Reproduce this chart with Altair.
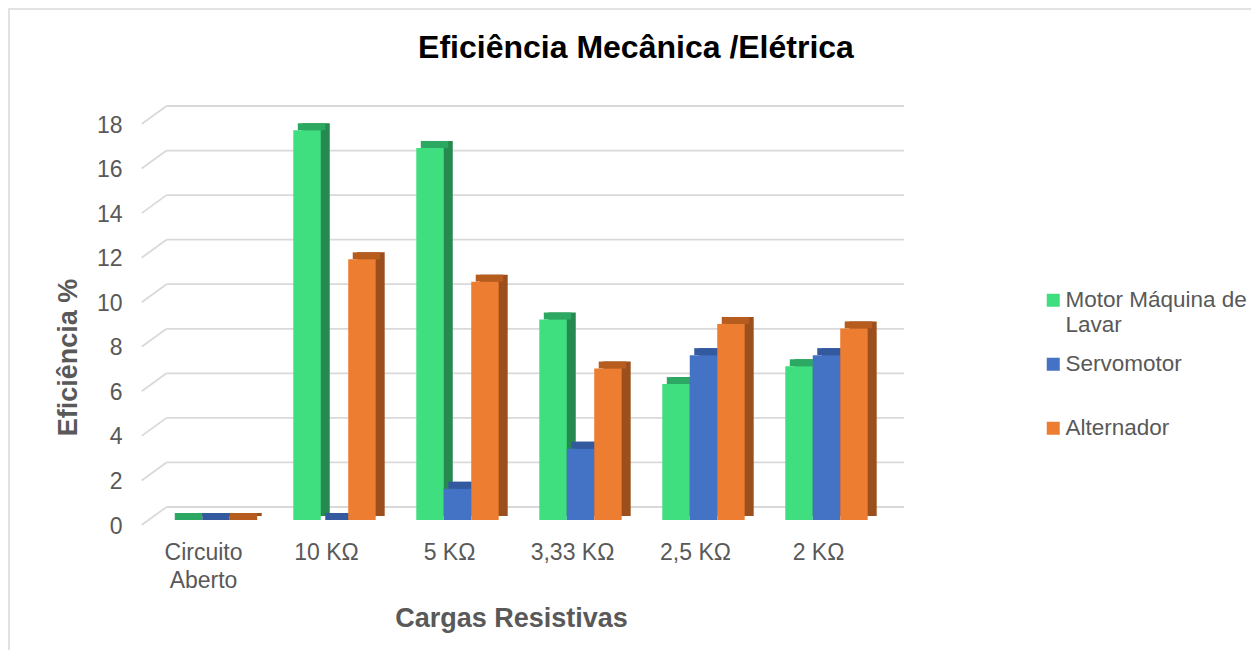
import altair as alt
import pandas as pd

FONT = "Liberation Sans, Arial, sans-serif"

categories = ["Circuito Aberto", "10 KΩ", "5 KΩ", "3,33 KΩ", "2,5 KΩ", "2 KΩ"]
series = ["Motor Máquina de Lavar", "Servomotor", "Alternador"]
motor = [0, 17.5, 16.7, 9.0, 6.1, 6.9]
servo = [0, 0, 1.4, 3.2, 7.4, 7.4]
alternador = [0, 11.7, 10.7, 6.8, 8.8, 8.6]
y_ticks = [0, 2, 4, 6, 8, 10, 12, 14, 16, 18]

front_colors = ["#3FDE7E", "#4472C4", "#ED7D31"]
side_colors = ["#26894F", "#2F5496", "#9A4F1D"]
top_colors = ["#2DA862", "#335A9F", "#B65C1E"]

rows = []
for s_i, (name, vals) in enumerate(zip(series, [motor, servo, alternador])):
    for cat, v in zip(categories, vals):
        rows.append({"cat": cat, "series": name, "value": v,
                     "side": side_colors[s_i], "top": top_colors[s_i]})
df = pd.DataFrame(rows)
ticks_df = pd.DataFrame({"tick": y_ticks})

GRID = "#D9D9D9"
TXT = "#595959"

X_AXIS = alt.Axis(labelExpr="datum.label == 'Circuito Aberto' ? ['Circuito', 'Aberto'] : datum.label",
                  labelAngle=0, labelFontSize=23, labelColor=TXT, labelFont=FONT,
                  labelPadding=21, labelOffset=-8, labelLineHeight=28,
                  domain=False, ticks=False, grid=False,
                  titleFontSize=27, titleFontWeight="bold", titleColor=TXT, titleFont=FONT,
                  titleX=361, titleY=98, titleBaseline="middle")
Y_AXIS = alt.Axis(values=y_ticks, labelFontSize=23, labelColor=TXT, labelFont=FONT,
                  labelPadding=28, labelOffset=6,
                  domain=False, ticks=False, grid=False,
                  titleFontSize=27, titleFontWeight="bold", titleColor=TXT, titleFont=FONT,
                  titleX=-82, titleY=238, titleBaseline="middle", titleAlign="center")
X_SCALE = alt.Scale(paddingInner=0.33, paddingOuter=0.165)
Y_SCALE = alt.Scale(domain=[0, 18], nice=False, zero=True)
X_TITLE = "Cargas Resistivas"
Y_TITLE = "Eficiência %"


def x_cat():
    return alt.X("cat:N", sort=categories, scale=X_SCALE, title=X_TITLE, axis=X_AXIS)


def y_of(field):
    return alt.Y(field, stack=None, scale=Y_SCALE, title=Y_TITLE, axis=Y_AXIS)


frame = alt.Chart(pd.DataFrame({"f": [0]})).mark_rect(
    filled=False, stroke=GRID, strokeWidth=1.5
).encode(x=alt.value(-141), x2=alt.value(1200), y=alt.value(-110), y2=alt.value(600))

grid = alt.Chart(ticks_df).mark_rule(color=GRID, strokeWidth=1.8, yOffset=-13).encode(
    y=y_of("tick:Q"),
    x=alt.value(16.5), x2=alt.value(754),
)

diag = alt.Chart(ticks_df).mark_rule(color=GRID, strokeWidth=1.8, yOffset=5, y2Offset=-13).encode(
    y=y_of("tick:Q"), y2=alt.Y2("tick:Q"),
    x=alt.value(-8.3), x2=alt.value(16.5),
)

side = alt.Chart(df).mark_bar(yOffset=-7, y2Offset=-4).encode(
    x=x_cat(),
    xOffset=alt.XOffset("series:N", sort=series,
                        scale=alt.Scale(range=[9, 91.4], paddingInner=0, paddingOuter=0)),
    y=y_of("value:Q"),
    y2=alt.datum(0),
    fill=alt.Fill("side:N", scale=None, legend=None),
)

top = alt.Chart(df).mark_bar(yOffset=-7, y2Offset=0).encode(
    x=x_cat(),
    xOffset=alt.XOffset("series:N", sort=series,
                        scale=alt.Scale(range=[4.5, 86.9], paddingInner=0, paddingOuter=0)),
    y=y_of("value:Q"),
    y2=alt.Y2("value:Q"),
    fill=alt.Fill("top:N", scale=None, legend=None),
)

front = alt.Chart(df).mark_bar().encode(
    x=x_cat(),
    xOffset=alt.XOffset("series:N", sort=series,
                        scale=alt.Scale(range=[0, 82.4], paddingInner=0, paddingOuter=0)),
    y=y_of("value:Q"),
    color=alt.Color("series:N", sort=series,
                    scale=alt.Scale(domain=series, range=front_colors),
                    legend=alt.Legend(orient="none", legendX=892, legendY=170, title=None,
                                      symbolType="square", symbolSize=169, symbolStrokeWidth=0,
                                      labelFontSize=22.5, labelColor=TXT, labelFont=FONT,
                                      labelOffset=1, labelLimit=400, padding=0,
                                      rowPadding=16, gridAlign="all",
                                      labelExpr="datum.label == 'Motor Máquina de Lavar' ? ['Motor Máquina de', 'Lavar'] : datum.label")),
)

chart = alt.layer(frame, grid, diag, side, top, front).resolve_scale(
    xOffset="independent"
).properties(
    width=738, height=401,
    autosize=alt.AutoSizeParams(type="none"),
    padding={"left": 142, "top": 111, "right": 363, "bottom": 130},
    title=alt.Title("Eficiência Mecânica /Elétrica", fontSize=32, font=FONT, fontWeight="bold",
                    color="#000000", anchor="middle", frame="group", dx=117, dy=82, offset=0,
                    baseline="alphabetic"),
).configure_view(strokeWidth=0)

chart.save("out.html", embed_options={"renderer": "svg", "actions": False})
